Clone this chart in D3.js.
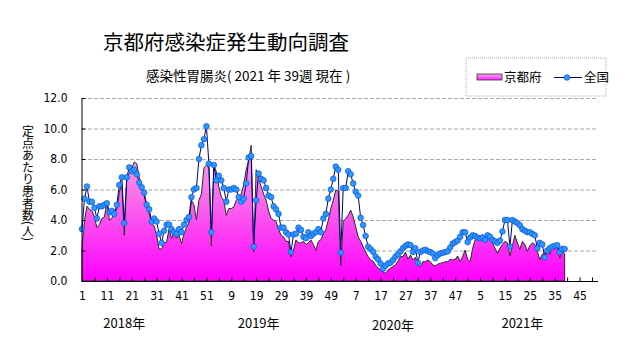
<!DOCTYPE html>
<html>
<head>
<meta charset="utf-8">
<script src="https://cdn.jsdelivr.net/npm/d3@7"></script>
<style>
  body { margin: 0; background: #fff; }
  text { font-family: "Noto Sans CJK JP", sans-serif; }
  .num { font-family: "Liberation Sans Narrow", "DejaVu Sans Condensed", sans-serif; }
</style>
</head>
<body>
<svg id="chart"></svg>
<script>
const width = 631;
const height = 347;
const margin = { top: 98, right: 34, bottom: 66, left: 82 };

// weekly values, 2018 week 1 .. 2021 week 39
const kyoto = [
  2.2, 4.0, 4.9, 4.7, 4.6, 4.2, 3.5, 3.7, 4.1, 4.2,
  5.2, 4.0, 4.1, 4.6, 4.7, 5.8, 6.4, 3.0, 6.7, 7.1,
  7.4, 7.8, 7.7, 6.8, 6.3, 5.6, 4.9, 4.4, 3.8, 3.6,
  3.0, 2.1, 2.1, 2.5, 2.55, 3.4, 2.8, 3.2, 2.8, 3.0,
  2.45, 3.1, 3.5, 3.8, 5.3, 5.0, 4.0, 5.3, 5.7, 7.4,
  7.6, 7.4, 2.3, 7.6, 7.15, 6.2, 5.5, 5.3, 4.3, 4.75,
  4.75, 4.85, 5.3, 5.4, 5.7, 6.3, 7.3, 7.9, 8.9, 1.9,
  7.3, 6.7, 6.2, 5.7, 5.3, 4.6, 4.1, 4.0, 3.9, 3.4,
  3.0, 2.9, 2.6, 2.6, 1.6, 2.0, 2.7, 2.5, 2.5, 2.6,
  2.4, 2.5, 2.7, 2.4, 2.0, 2.6, 2.7, 3.1, 3.35, 4.0,
  4.75, 5.3, 5.95, 5.9, 1.0, 3.9, 4.1, 4.3, 4.65, 4.2,
  3.55, 2.9, 2.6, 2.25, 1.9, 1.6, 1.4, 1.3, 1.05, 0.85,
  0.72, 0.6, 0.5, 0.72, 0.85, 0.95, 1.05, 1.3, 1.6, 1.6,
  1.9, 1.42, 1.7, 1.38, 1.55, 1.05, 0.94, 1.27, 1.27, 1.38,
  1.27, 1.05, 1.0, 1.1, 1.16, 1.2, 1.27, 1.27, 1.42, 1.38,
  1.42, 1.64, 1.27, 1.6, 2.03, 1.42, 1.27, 2.14, 2.69, 2.95,
  2.9, 3.05, 2.7, 2.9, 2.85, 2.5, 2.15, 1.8, 2.15, 2.4,
  2.6, 2.5, 1.64, 2.3, 3.0, 2.5, 2.07, 2.6, 2.4, 1.95,
  2.3, 2.5, 2.4, 1.95, 1.4, 1.75, 1.84, 2.07, 1.75, 2.4,
  2.07, 2.4, 1.5, 1.95, 1.8
];

const zenkoku = [
  3.4, 5.4, 6.2, 5.2, 5.2, 4.8, 4.1, 4.9, 4.9, 5.0,
  5.1, 4.5, 4.6, 4.4, 5.0, 6.3, 6.8, 3.8, 6.8, 7.45,
  7.2, 7.3, 7.0, 6.45, 6.15, 5.8, 5.0, 4.7, 3.9, 4.1,
  3.9, 3.1, 2.5, 3.3, 3.7, 3.7, 3.4, 3.2, 3.1, 3.4,
  3.2, 3.7, 4.0, 4.2, 5.5, 6.0, 6.1, 8.0, 8.9, 9.3,
  10.15, 7.7, 3.2, 7.6, 6.6, 6.9, 6.6, 6.1, 5.2, 6.0,
  6.0, 6.1, 6.0, 5.5, 5.2, 5.4, 6.4, 8.1, 8.2, 2.25,
  5.3, 7.05, 6.7, 6.6, 6.1, 5.6, 5.5, 4.9, 4.7, 4.4,
  3.5, 3.5, 3.2, 3.05, 1.9, 3.05, 3.1, 3.5, 3.35, 2.9,
  2.8, 3.2, 2.95, 3.1, 3.2, 3.4, 3.2, 4.1, 4.4, 5.4,
  6.0, 6.7, 7.5, 7.3, 1.86, 6.1, 6.1, 7.2, 7.0, 6.4,
  5.85, 5.6, 4.15, 3.67, 2.95, 2.25, 2.1, 1.92, 1.6, 1.42,
  1.15, 0.8, 1.0, 1.15, 1.2, 1.38, 1.6, 1.75, 1.95, 2.15,
  2.3, 2.4, 2.35, 1.9, 2.15, 1.2, 1.9, 2.0, 2.05, 1.95,
  1.9, 1.8, 1.5, 1.7, 1.8, 1.85, 1.9, 1.95, 2.2, 2.45,
  2.55, 2.65, 2.9, 3.2, 3.2, 2.55, 2.85, 3.0, 2.95, 2.85,
  2.8, 2.85, 2.7, 3.0, 2.9, 2.7, 2.6, 2.5, 2.65, 3.25,
  4.0, 4.0, 2.25, 4.0, 3.9, 3.8, 3.65, 3.4, 3.3, 3.2,
  3.2, 3.1, 3.0, 2.15, 2.5, 2.4, 1.55, 2.0, 2.15, 2.25,
  2.3, 2.35, 1.9, 2.1, 2.1
];

const weekTickLabels = ["1", "11", "21", "31", "41", "51", "9", "19", "29", "39", "49",
  "7", "17", "27", "37", "47", "5", "15", "25", "35", "45"];
const years = ["2018年", "2019年", "2020年", "2021年"];
const yTicks = [0, 2, 4, 6, 8, 10, 12];
const yTitle = "定点あたり患者数(人)";
const nSlots = 208; // 4 years x 52 weeks on the axis

const svg = d3.select("svg#chart")
  .attr("width", width)
  .attr("height", height);

const x = d3.scaleLinear()
  .domain([0, nSlots - 1])
  .range([margin.left, width - margin.right]);

const y = d3.scaleLinear()
  .domain([0, 12])
  .range([height - margin.bottom, margin.top]);

const defs = svg.append("defs");
const grad = defs.append("linearGradient")
  .attr("id", "pinkFill")
  .attr("gradientUnits", "userSpaceOnUse")
  .attr("x1", 0).attr("y1", y(12))
  .attr("x2", 0).attr("y2", y(0));
grad.append("stop").attr("offset", 0).attr("stop-color", "#f0c0e8");
grad.append("stop").attr("offset", 0.35).attr("stop-color", "#f79ae2");
grad.append("stop").attr("offset", 1).attr("stop-color", "#ff00ff");

const legGrad = defs.append("linearGradient")
  .attr("id", "legFill")
  .attr("x1", 0).attr("y1", 0).attr("x2", 0).attr("y2", 1);
legGrad.append("stop").attr("offset", 0).attr("stop-color", "#f6a8e8");
legGrad.append("stop").attr("offset", 1).attr("stop-color", "#ff22ff");

// titles
svg.append("text")
  .attr("x", 103).attr("y", 50)
  .style("font-size", "20.5px")
  .text("京都府感染症発生動向調査");

svg.append("text")
  .attr("x", 146).attr("y", 81)
  .style("font-size", "13.5px")
  .text("感染性胃腸炎( 2021 年 39週 現在 )");

// grid
svg.append("g")
  .selectAll("line")
  .data(yTicks.filter(d => d > 0))
  .enter()
  .append("line")
  .attr("x1", x(0))
  .attr("x2", x(nSlots - 1))
  .attr("y1", d => y(d) + 0.5)
  .attr("y2", d => y(d) + 0.5)
  .style("stroke", "#a8a8a8")
  .style("stroke-dasharray", "4,2");

// kyoto area
const area = d3.area()
  .x((d, i) => x(i))
  .y0(y(0))
  .y1(d => y(d));

svg.append("path")
  .datum(kyoto)
  .attr("d", area)
  .style("fill", "url(#pinkFill)")
  .style("stroke", "#2a2a2a")
  .style("stroke-width", 1);

// national line
const line = d3.line()
  .x((d, i) => x(i))
  .y(d => y(d));

svg.append("path")
  .datum(zenkoku)
  .attr("d", line)
  .style("fill", "none")
  .style("stroke", "#000080")
  .style("stroke-width", 1);

svg.append("g")
  .selectAll("circle")
  .data(zenkoku)
  .enter()
  .append("circle")
  .attr("cx", (d, i) => x(i))
  .attr("cy", d => y(d))
  .attr("r", 2.8)
  .style("fill", "#2a98ff")
  .style("stroke", "#1050d0")
  .style("stroke-width", 0.7);

// axes
const xAxis = d3.axisBottom(x)
  .tickValues(d3.range(0, nSlots, 5))
  .tickSizeInner(-4)
  .tickSizeOuter(0)
  .tickPadding(10)
  .tickFormat(d => d % 10 === 0 ? weekTickLabels[d / 10] : "");

const gx = svg.append("g")
  .attr("transform", "translate(0," + (y(0) + 0.5) + ")")
  .call(xAxis);
gx.select(".domain").attr("d", "M" + x(0) + ",0H" + (x(nSlots - 1) + 1));
gx.selectAll("text").attr("class", "num").style("font-size", "12px").style("fill", "#000");

const yAxis = d3.axisLeft(y)
  .tickValues(yTicks)
  .tickSizeInner(-4)
  .tickSizeOuter(0)
  .tickPadding(14)
  .tickFormat(d3.format(".1f"));

const gy = svg.append("g")
  .attr("transform", "translate(" + (x(0) - 0.5) + ",0)")
  .call(yAxis);
gy.selectAll("text").attr("class", "num").style("font-size", "12px").style("fill", "#000");

// year labels
const yearCenters = [17, 71, 125, 177];
svg.append("g")
  .selectAll("text")
  .data(years)
  .enter()
  .append("text")
  .attr("x", (d, i) => x(yearCenters[i]))
  .attr("y", (d, i) => i === 2 ? 330 : 328)
  .attr("text-anchor", "middle")
  .style("font-size", "13px")
  .text(d => d);

// y title (vertical)
svg.append("text")
  .attr("x", 28)
  .attr("y", 125)
  .style("writing-mode", "vertical-rl")
  .style("font-size", "12px")
  .text(yTitle);

// legend
const leg = svg.append("g").attr("transform", "translate(466,58)");
leg.append("rect")
  .attr("width", 140).attr("height", 38)
  .style("fill", "#fff")
  .style("stroke", "#b0b0b0")
  .style("stroke-dasharray", "1,1");
leg.append("rect")
  .attr("x", 11).attr("y", 16).attr("width", 25).attr("height", 6)
  .style("fill", "url(#legFill)")
  .style("stroke", "#333")
  .style("stroke-width", 0.8);
leg.append("text")
  .attr("x", 38).attr("y", 24)
  .style("font-size", "12.5px")
  .text("京都府");
leg.append("line")
  .attr("x1", 88).attr("x2", 116).attr("y1", 19.5).attr("y2", 19.5)
  .style("stroke", "#000080");
leg.append("circle")
  .attr("cx", 101).attr("cy", 19.5).attr("r", 2.8)
  .style("fill", "#2a98ff")
  .style("stroke", "#1050d0")
  .style("stroke-width", 0.7);
leg.append("text")
  .attr("x", 118).attr("y", 24)
  .style("font-size", "12.5px")
  .text("全国");
</script>
</body>
</html>
